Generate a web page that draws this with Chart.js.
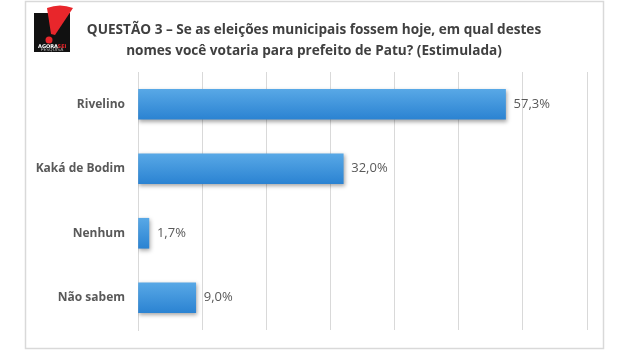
<!DOCTYPE html>
<html lang="pt">
<head>
<meta charset="UTF-8">
<title>Questão 3</title>
<script src="https://cdn.jsdelivr.net/npm/chart.js"></script>
<style>
  body { margin: 0; background: #fff; }
  #wrap { width: 630px; height: 360px; position: relative; }
</style>
</head>
<body>
<div id="wrap"><canvas id="chart"></canvas></div>
<script>
const categories = ['Rivelino', 'Kaká de Bodim', 'Nenhum', 'Não sabem'];
const votes = [57.3, 32.0, 1.7, 9.0];
const titleLines = [
  'QUESTÃO 3 – Se as eleições municipais fossem hoje, em qual destes',
  'nomes você votaria para prefeito de Patu? (Estimulada)'
];

const fmt = v => v.toFixed(1).replace('.', ',') + '%';

// frame, title and logo
const decor = {
  id: 'decor',
  beforeDraw(chart) {
    const ctx = chart.ctx;
    ctx.save();
    ctx.fillStyle = '#fff';
    ctx.fillRect(0, 0, chart.width, chart.height);
    ctx.strokeStyle = '#d9d9d9';
    ctx.lineWidth = 1.5;
    ctx.strokeRect(25.5, 1.5, 578, 347);

    // logo
    ctx.fillStyle = '#111';
    ctx.fillRect(34, 13, 36, 39);
    ctx.fillStyle = '#e8262b';
    ctx.beginPath();
    ctx.moveTo(47, 8);
    ctx.quadraticCurveTo(60, 3, 73, 8);
    ctx.lineTo(55, 35);
    ctx.lineTo(51, 34);
    ctx.closePath();
    ctx.fill();
    ctx.beginPath();
    ctx.arc(49, 40, 3.5, 0, Math.PI * 2);
    ctx.fill();
    ctx.font = 'bold 5px "DejaVu Sans"';
    ctx.textAlign = 'center';
    ctx.textBaseline = 'middle';
    ctx.fillStyle = '#fff';
    ctx.fillText('AGORA', 48, 46.5);
    ctx.fillStyle = '#e8262b';
    ctx.fillText('SEI', 62, 46.5);
    ctx.fillStyle = '#bbb';
    ctx.font = '4.5px "DejaVu Sans"';
    ctx.fillText('PESQUISA', 52, 50);

    // title
    ctx.fillStyle = '#404040';
    ctx.font = 'bold 13.6px "Open Sans"';
    ctx.fillText(titleLines[0], 314, 30);
    ctx.fillText(titleLines[1], 314, 51);
    ctx.restore();
  },
  beforeDatasetsDraw(chart) {
    const ctx = chart.ctx;
    ctx.save();
    ctx.shadowColor = 'rgba(0,0,0,0.35)';
    ctx.shadowBlur = 4;
    ctx.shadowOffsetX = 1;
    ctx.shadowOffsetY = 2;
  },
  afterDatasetsDraw(chart) {
    const ctx = chart.ctx;
    ctx.restore();
    ctx.save();
    ctx.font = '13px "Open Sans"';
    ctx.fillStyle = '#595959';
    ctx.textAlign = 'left';
    ctx.textBaseline = 'middle';
    chart.getDatasetMeta(0).data.forEach((bar, i) => {
      ctx.fillText(fmt(votes[i]), bar.x + 8, bar.y);
    });
    ctx.restore();
  }
};

function barGradient(c) {
  const chart = c.chart;
  const yScale = chart.scales.y;
  if (!yScale || !chart.chartArea) return '#3b8fdb';
  const y = yScale.getPixelForValue(c.dataIndex);
  const g = chart.ctx.createLinearGradient(0, y - 15, 0, y + 15);
  g.addColorStop(0, '#58a8e6');
  g.addColorStop(1, '#2b83d2');
  return g;
}

new Chart(document.getElementById('chart'), {
  type: 'bar',
  data: {
    labels: categories,
    datasets: [{
      data: votes,
      backgroundColor: barGradient,
      borderWidth: 0,
      barThickness: 30
    }]
  },
  plugins: [decor],
  options: {
    indexAxis: 'y',
    responsive: true,
    maintainAspectRatio: false,
    animation: false,
    layout: { padding: { left: 25, right: 43, top: 72, bottom: 30 } },
    plugins: {
      legend: { display: false },
      tooltip: { enabled: false }
    },
    scales: {
      x: {
        min: 0,
        max: 70,
        ticks: { display: false, stepSize: 10 },
        grid: { color: '#d9d9d9', lineWidth: 1, drawTicks: false },
        border: { display: false }
      },
      y: {
        afterFit(scale) { scale.width = 113; },
        ticks: {
          color: '#595959',
          padding: 13,
          font: { family: 'Open Sans', size: 12, weight: 'bold' }
        },
        grid: { display: false, drawTicks: false },
        border: { display: true, color: '#d9d9d9' }
      }
    }
  }
});
</script>
</body>
</html>
